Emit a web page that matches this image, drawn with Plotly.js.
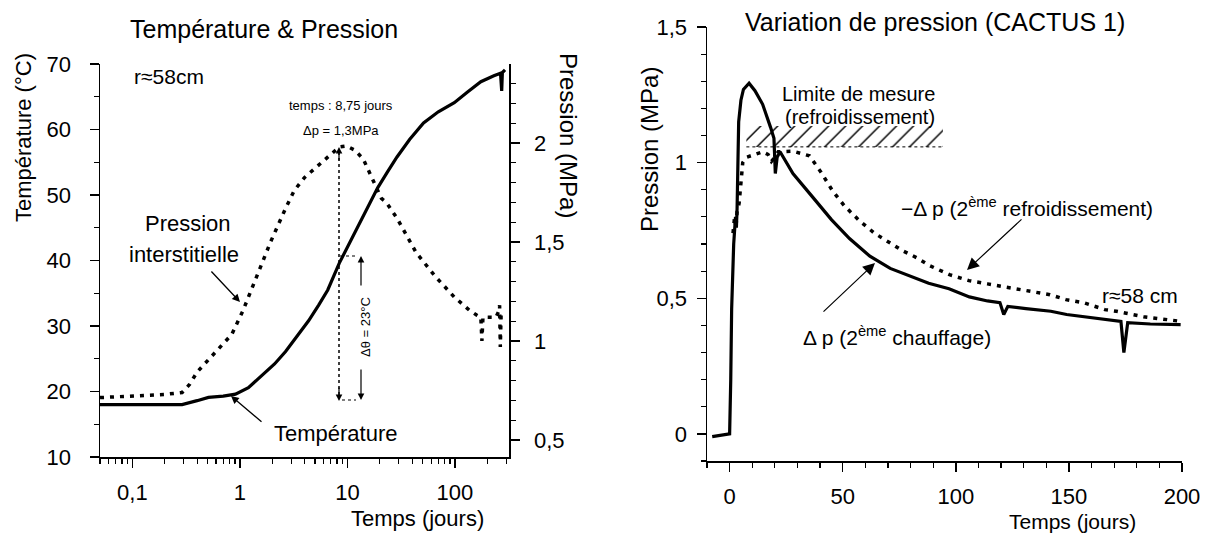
<!DOCTYPE html>
<html><head><meta charset="utf-8">
<script src="https://cdn.plot.ly/plotly-3.0.1.min.js"></script>
<style>html,body{margin:0;padding:0;background:#fff}#chart{width:1209px;height:533px}</style>
</head><body><div id="chart"></div>
<script>
// ---- Left chart data (log time axis) ----
const tempDays = [0.05, 0.1, 0.2, 0.29, 0.4, 0.51, 0.7, 0.91, 1.2, 1.62, 2.1, 2.66, 3.4, 4.35, 5.4, 6.56, 8.4, 10.3, 12.6, 15.5, 19.1, 23.5, 28.9, 38, 51, 70, 98.5, 130, 174, 230, 265, 272, 276, 292];
const tempC = [18.0, 18.0, 18.0, 18.0, 18.6, 19.1, 19.3, 19.6, 20.6, 22.5, 24.2, 26.1, 28.4, 30.8, 33.2, 35.5, 39.6, 42.5, 45.4, 48.3, 51.1, 53.5, 55.8, 58.5, 61.0, 62.7, 64.1, 65.7, 67.3, 68.2, 68.6, 65.9, 68.7, 69.1];
const presDays = [0.05, 0.1, 0.2, 0.29, 0.34, 0.4, 0.5, 0.605, 0.72, 0.84, 1.07, 1.38, 1.92, 2.66, 3.2, 4.0, 6.0, 8.4, 9.8, 11.7, 14, 16.2, 18.5, 20.7, 23, 28.9, 43.6, 65.6, 98.5, 137, 160, 174, 178, 182, 240, 255, 260, 264, 268, 285];
const presMPa = [0.714, 0.72, 0.73, 0.74, 0.78, 0.843, 0.90, 0.947, 0.99, 1.033, 1.154, 1.309, 1.498, 1.67, 1.76, 1.826, 1.912, 1.98, 1.985, 1.964, 1.92, 1.843, 1.78, 1.72, 1.70, 1.62, 1.446, 1.326, 1.222, 1.154, 1.13, 1.119, 1.0, 1.12, 1.119, 1.15, 1.18, 0.97, 1.12, 1.12];

// ---- Right chart data ----
const heatDays = [-7.7, -4, 0, 0.5, 0.9, 1.8, 2.6, 3.0, 3.3, 4.0, 5.0, 6.1, 8.6, 11.2, 14.6, 18.1, 19.6, 20.2, 21.0, 22.3, 28, 37, 45, 53, 62, 71, 80, 88, 97, 106, 114, 119.5, 121.2, 123, 131, 142, 149, 160, 170, 173, 174.3, 176, 186, 199.4];
const heatDp = [-0.01, -0.005, 0.0, 0.2, 0.46, 0.70, 0.80, 0.76, 0.83, 1.15, 1.23, 1.27, 1.293, 1.265, 1.215, 1.13, 1.09, 0.96, 1.02, 1.04, 0.96, 0.87, 0.79, 0.72, 0.655, 0.61, 0.58, 0.555, 0.535, 0.505, 0.49, 0.484, 0.44, 0.47, 0.462, 0.452, 0.44, 0.428, 0.42, 0.415, 0.30, 0.41, 0.405, 0.403];
const coolDays = [1.5, 2.2, 2.8, 3.3, 4.2, 5.2, 5.8, 7.5, 11, 14.6, 17, 18.5, 20, 21.5, 28, 35.3, 40.4, 45.6, 50.8, 57.5, 64, 70.8, 76.5, 82.6, 88.5, 97.2, 105.8, 114, 122.9, 131.5, 141.6, 148.7, 156.3, 165.9, 171, 183, 191, 199.4];
const coolDp = [0.74, 0.80, 0.76, 0.82, 0.85, 0.93, 1.0, 1.02, 1.031, 1.04, 1.03, 1.005, 1.02, 1.04, 1.042, 1.025, 0.965, 0.895, 0.84, 0.785, 0.74, 0.705, 0.675, 0.65, 0.62, 0.587, 0.565, 0.553, 0.54, 0.525, 0.513, 0.495, 0.484, 0.458, 0.452, 0.432, 0.424, 0.415];
const limitDays = [7.4, 94.3];
const limitLow = [1.058, 1.058];
const limitHigh = [1.135, 1.135];

// ---- Tick labels ----
const logTickVals = [0.1, 1, 10, 100];
const logTickText = ['0,1', '1', '10', '100'];
const tempTickVals = [10, 20, 30, 40, 50, 60, 70];
const presTickVals = [0.5, 1, 1.5, 2];
const presTickText = ['0,5', '1', '1,5', '2'];
const rightXTicks = [0, 50, 100, 150, 200];
const rightYTicks = [0, 0.5, 1, 1.5];
const rightYText = ['0', '0,5', '1', '1,5'];

const minorLog = [];
for (let d = -2; d <= 2; d++) for (let k = 2; k <= 9; k++) minorLog.push(k * Math.pow(10, d));

const W = 1209, H = 533;
const px = x => x / W, py = y => 1 - y / H;
const F = 'Liberation Sans, Arial, Helvetica, sans-serif';
const K = '#000';

const traces = [
  {x: tempDays, y: tempC, xaxis: 'x', yaxis: 'y', mode: 'lines', line: {color: K, width: 3.2}},
  {x: presDays, y: presMPa, xaxis: 'x', yaxis: 'y2', mode: 'lines', line: {color: K, width: 3.5, dash: '4px,6px'}},
  {x: limitDays, y: limitLow, xaxis: 'x2', yaxis: 'y3', mode: 'lines', line: {color: K, width: 1, dash: '3px,3px'}},
  {x: limitDays, y: limitHigh, xaxis: 'x2', yaxis: 'y3', mode: 'lines', line: {color: 'rgba(0,0,0,0)', width: 0},
   fill: 'tonexty', fillcolor: 'rgba(0,0,0,0)',
   fillpattern: {shape: '/', fgcolor: K, bgcolor: 'rgba(0,0,0,0)', size: 12, solidity: 0.12, fillmode: 'replace'}},
  {x: heatDays, y: heatDp, xaxis: 'x2', yaxis: 'y3', mode: 'lines', line: {color: K, width: 3.2}},
  {x: coolDays, y: coolDp, xaxis: 'x2', yaxis: 'y3', mode: 'lines', line: {color: K, width: 3.5, dash: '4px,6px'}}
];

const axBase = {showline: true, linecolor: K, linewidth: 1.5, ticks: 'outside', tickcolor: K, tickwidth: 1.5,
  ticklen: 9, showgrid: false, zeroline: false, tickfont: {family: F, size: 22, color: K}};
const minorBase = {ticks: 'outside', ticklen: 5, tickwidth: 1.2, tickcolor: K, showgrid: false};

function txt(text, x, y, size, extra) {
  return Object.assign({text: text, xref: 'paper', yref: 'paper', x: px(x), y: py(y), showarrow: false,
    xanchor: 'center', yanchor: 'middle', font: {family: F, size: size, color: K}}, extra || {});
}
function arrow(hx, hy, tx, ty, head, size, width) {
  return {text: '', xref: 'paper', yref: 'paper', x: px(hx), y: py(hy), ax: tx - hx, ay: ty - hy,
    showarrow: true, arrowhead: head, arrowsize: size, arrowwidth: width, arrowcolor: K, standoff: 0, startstandoff: 0};
}

const layout = {
  width: W, height: H, margin: {l: 0, r: 0, t: 0, b: 0}, paper_bgcolor: '#fff', plot_bgcolor: 'rgba(0,0,0,0)',
  showlegend: false, separators: ', ', font: {family: F, size: 22, color: K},
  xaxis: Object.assign({}, axBase, {type: 'log', domain: [px(100), px(509)], anchor: 'y',
    range: [Math.log10(0.05), Math.log10(318)], tickmode: 'array', tickvals: logTickVals, ticktext: logTickText,
    ticklen: 9, ticklabelstandoff: 6, minor: Object.assign({}, minorBase, {tickmode: 'array', tickvals: minorLog})}),
  yaxis: Object.assign({}, axBase, {domain: [py(457), py(64)], anchor: 'x', range: [10, 70],
    tickmode: 'array', tickvals: tempTickVals, ticklabelstandoff: 14, minor: Object.assign({}, minorBase, {dtick: 5})}),
  yaxis2: Object.assign({}, axBase, {overlaying: 'y', side: 'right', anchor: 'x', range: [0.414, 2.399],
    tickmode: 'array', tickvals: presTickVals, ticktext: presTickText, ticklabelstandoff: 10,
    minor: Object.assign({}, minorBase, {dtick: 0.1, tick0: 0})}),
  xaxis2: Object.assign({}, axBase, {domain: [px(707), px(1182)], anchor: 'y3', range: [-10, 200],
    tickmode: 'array', tickvals: rightXTicks, ticklabelstandoff: 6, minor: Object.assign({}, minorBase, {dtick: 10, tick0: 0})}),
  yaxis3: Object.assign({}, axBase, {domain: [py(461), py(27)], anchor: 'x2', range: [-0.1, 1.5],
    tickmode: 'array', tickvals: rightYTicks, ticktext: rightYText, ticklabelstandoff: 5,
    minor: Object.assign({}, minorBase, {dtick: 0.1, tick0: 0})}),
  shapes: [
    {type: 'line', xref: 'paper', yref: 'paper', x0: px(339), x1: px(339), y0: py(152), y1: py(396), line: {color: K, width: 1.5, dash: 'dot'}},
    {type: 'line', xref: 'paper', yref: 'paper', x0: px(340), x1: px(356), y0: py(256), y1: py(256), line: {color: K, width: 1.2, dash: 'dot'}},
    {type: 'line', xref: 'paper', yref: 'paper', x0: px(342), x1: px(356), y0: py(400), y1: py(400), line: {color: K, width: 1.2, dash: 'dot'}}
  ],
  annotations: [
    txt('Température &amp; Pression', 264, 29, 25),
    txt('Température (°C)', 23, 138, 22, {textangle: -90}),
    txt('Pression (MPa)', 569, 135, 24, {textangle: 90}),
    txt('Temps (jours)', 417, 518, 22),
    txt('r≈58cm', 169, 77, 21),
    txt('temps : 8,75 jours', 341, 105, 13),
    txt('Δp = 1,3MPa', 341, 130, 13),
    txt('Pression', 188, 223, 22),
    txt('interstitielle', 184, 254, 22),
    txt('Température', 336, 433, 22),
    txt('Δθ = 23°C', 365, 327, 13, {textangle: -90}),
    arrow(240, 302, 210, 270, 2, 1.2, 1.3),
    arrow(231, 396, 263, 423, 2, 1.2, 1.3),
    arrow(339, 147, 339, 162, 2, 1.1, 1.2),
    arrow(339, 401, 339, 386, 2, 1.1, 1.2),
    arrow(361, 256, 361, 287, 2, 1.1, 1.2),
    arrow(361, 400, 361, 368, 2, 1.1, 1.2),

    txt('Variation de pression (CACTUS 1)', 935, 22, 25),
    txt('Pression (MPa)', 650, 150, 24, {textangle: -90}),
    txt('Temps (jours)', 1072, 521, 21),
    txt('Limite de mesure', 858, 94, 20),
    txt('(refroidissement)', 860, 117, 20),
    txt('−Δ p (2<sup>ème</sup> refroidissement)', 1027, 207, 21),
    txt('Δ p (2<sup>ème</sup> chauffage)', 897, 336, 21),
    txt('r≈58 cm', 1140, 295, 21),
    arrow(967, 270, 1023, 218, 2, 2, 1.2),
    arrow(875, 263, 822, 313, 2, 2, 1.2)
  ]
};

Plotly.newPlot('chart', traces, layout, {staticPlot: true, displayModeBar: false});
</script>
</body></html>
